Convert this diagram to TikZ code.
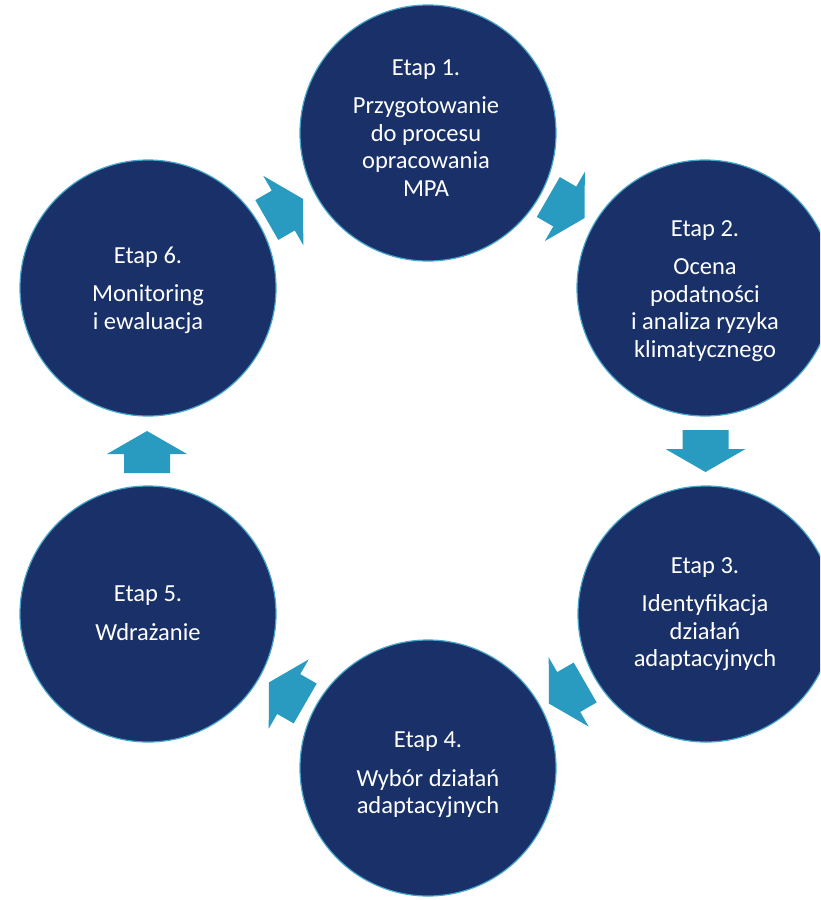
\documentclass[tikz,border=0pt]{standalone}
\usepackage{fontspec}
\setmainfont{Carlito}
\usetikzlibrary{calc}
\definecolor{navy}{RGB}{25,49,104}
\definecolor{rim}{RGB}{70,165,205}
\definecolor{arrowblue}{RGB}{42,155,192}
\tikzset{
  stage/.style={circle, fill=navy, draw=rim, line width=1.2pt, minimum size=256pt, inner sep=0pt},
  stagetext/.style={text=white, align=center, inner sep=0pt, font=\fontsize{24.5}{27.5}\selectfont},
  blockarrow/.pic={\fill[arrowblue] (-21,-23) -- (-2,-23) -- (-2,-40) -- (21,0) -- (-2,40) -- (-2,23) -- (-21,23) -- cycle;}
}
\begin{document}
\begin{tikzpicture}[x=1pt,y=-1pt]
\useasboundingbox (0,0) rectangle (820,900);
\clip (0,0) rectangle (820,900);
\fill[white] (0,0) rectangle (820,900);
% circles
\node[stage] (c1) at (428,133) {};
\node[stage] (c2) at (705,288) {};
\node[stage] (c3) at (706,614) {};
\node[stage] (c4) at (428,768) {};
\node[stage] (c5) at (148,614) {};
\node[stage] (c6) at (148,288) {};
% texts
\node[stagetext] (t1) at (426,128) {Etap 1.\\[11pt]Przygotowanie\\do procesu\\opracowania\\MPA};
\node[stagetext] (t2) at (705,291) {Etap 2.\\[11pt]Ocena\\podatności\\i analiza ryzyka\\klimatycznego};
\node[stagetext] (t3) at (705,614) {Etap 3.\\[11pt]Identyfikacja\\działań\\adaptacyjnych};
\node[stagetext] (t4) at (428,775) {Etap 4.\\[11pt]Wybór działań\\adaptacyjnych};
\node[stagetext] (t5) at (148,613) {Etap 5.\\[11pt]Wdrażanie};
\node[stagetext] (t6) at (148,290) {Etap 6.\\[11pt]Monitoring\\i ewaluacja};
% arrows between stages
\pic[rotate=-30] (a12) at ($(c1)!0.5!(c2)+(0,-3)$) {blockarrow};
\pic[rotate=-90] (a23) at ($(c2)!0.5!(c3)$) {blockarrow};
\pic[rotate=-150] (a34) at ($(c3)!0.5!(c4)+(0,2)$) {blockarrow};
\pic[rotate=150] (a45) at ($(c4)!0.5!(c5)+(-1,2)$) {blockarrow};
\pic[rotate=90] (a56) at ($(c5)!0.5!(c6)+(-1,1)$) {blockarrow};
\pic[rotate=30] (a61) at ($(c6)!0.5!(c1)+(-3,-1)$) {blockarrow};
\end{tikzpicture}
\end{document}
